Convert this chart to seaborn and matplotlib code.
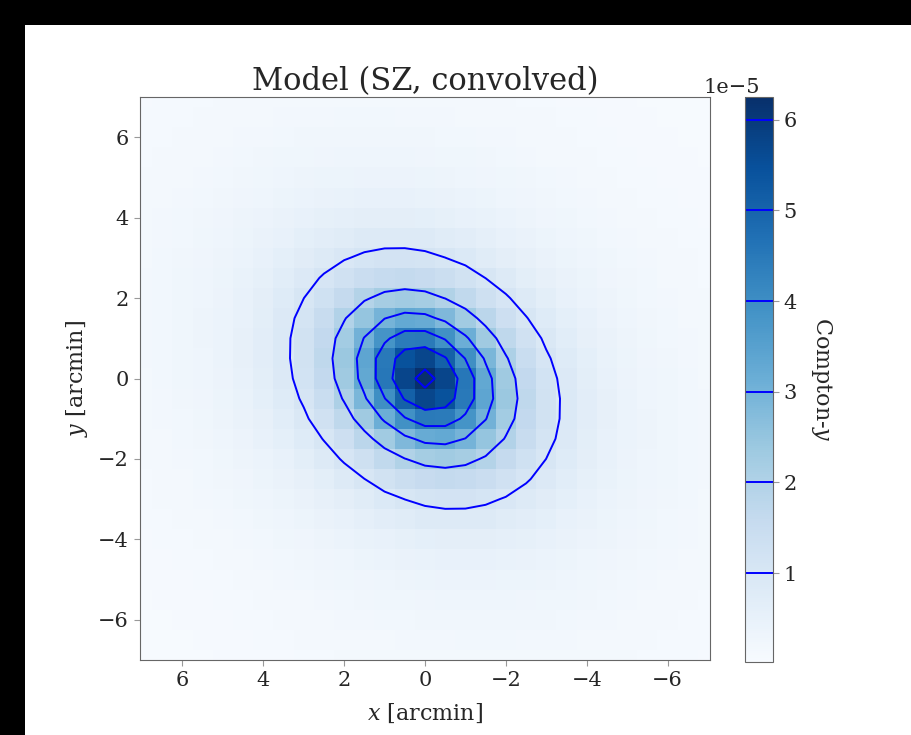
import numpy as np
import matplotlib
matplotlib.use("Agg")
import matplotlib.pyplot as plt
import seaborn as sns
from matplotlib.patches import Rectangle

# ---- values ----
pixel_centers = np.arange(-7.0, 7.01, 0.5)          # arcmin, 29 pixels per side
pixel_size = 0.5                                    # arcmin
peak_y = 6.25e-5                                    # central Compton-y
core_radius = 2.2                                   # arcmin (major axis)
beta_slope = 1.4
axis_ratio = 0.80
position_angle_deg = 41.0
contour_levels = [1e-5, 2e-5, 3e-5, 4e-5, 5e-5, 6e-5]
color_min = 0.02e-5
axis_limit = 7.05
tick_values = [-6, -4, -2, 0, 2, 4, 6]
title_text = "Model (SZ, convolved)"
xlabel_text = r"$x$ [arcmin]"
ylabel_text = r"$y$ [arcmin]"
cbar_label_text = r"Compton-$y$"

# ---- model map on the pixel grid ----
X, Y = np.meshgrid(pixel_centers, pixel_centers)
th = np.deg2rad(position_angle_deg)
u = X * np.cos(th) + Y * np.sin(th)
v = -X * np.sin(th) + Y * np.cos(th)
r2 = u ** 2 + (v / axis_ratio) ** 2
ymap = peak_y * (1.0 + r2 / core_radius ** 2) ** (-beta_slope)

sns.set_style("ticks")
plt.rcParams["font.family"] = ["DejaVu Serif"]
plt.rcParams["mathtext.fontset"] = "dejavuserif"

fig = plt.figure(figsize=(9.12, 7.35), dpi=100)
fig.patch.set_facecolor("black")
fig.patches.append(Rectangle((25 / 912, 0), 1 - 25 / 912, 1 - 25 / 735,
                             transform=fig.transFigure, facecolor="white",
                             edgecolor="none", zorder=-10))

ax = fig.add_axes([140 / 912, 75 / 735, 570 / 912, 563 / 735])
cax = fig.add_axes([745 / 912, 73 / 735, 28 / 912, 565 / 735])

cmap = sns.color_palette("Blues", as_cmap=True)
half = pixel_centers[-1] + pixel_size / 2
im = ax.imshow(ymap, origin="lower", cmap=cmap, interpolation="nearest",
               extent=(-half, half, -half, half), aspect="auto",
               vmin=color_min, vmax=ymap.max())
cs = ax.contour(pixel_centers, pixel_centers, ymap, levels=contour_levels,
                colors="blue", linewidths=1.4)

ax.set_xlim(axis_limit, -axis_limit)
ax.set_ylim(-7.0, 7.0)
ax.set_xticks(tick_values)
ax.set_yticks(tick_values)
ax.tick_params(labelsize=15, length=4, color="0.6", pad=4)
for s in ax.spines.values():
    s.set_color("0.4")
ax.set_title(title_text, fontsize=22, pad=5)
ax.set_xlabel(xlabel_text, fontsize=16, labelpad=8)
ax.set_ylabel(ylabel_text, fontsize=16, labelpad=6)

cbar = fig.colorbar(im, cax=cax)
cbar.add_lines(cs)
cbar.set_ticks(contour_levels)
cbar.ax.tick_params(labelsize=15, length=4, color="0.6")
cbar.outline.set_edgecolor("0.4")
cbar.set_label(cbar_label_text, fontsize=16, rotation=270, labelpad=27)
off = cbar.ax.yaxis.get_offset_text()
off.set_fontsize(15)

fig.canvas.draw()
off.set_x(0.55)

fig.savefig("out.png", dpi=100, facecolor=fig.get_facecolor())
